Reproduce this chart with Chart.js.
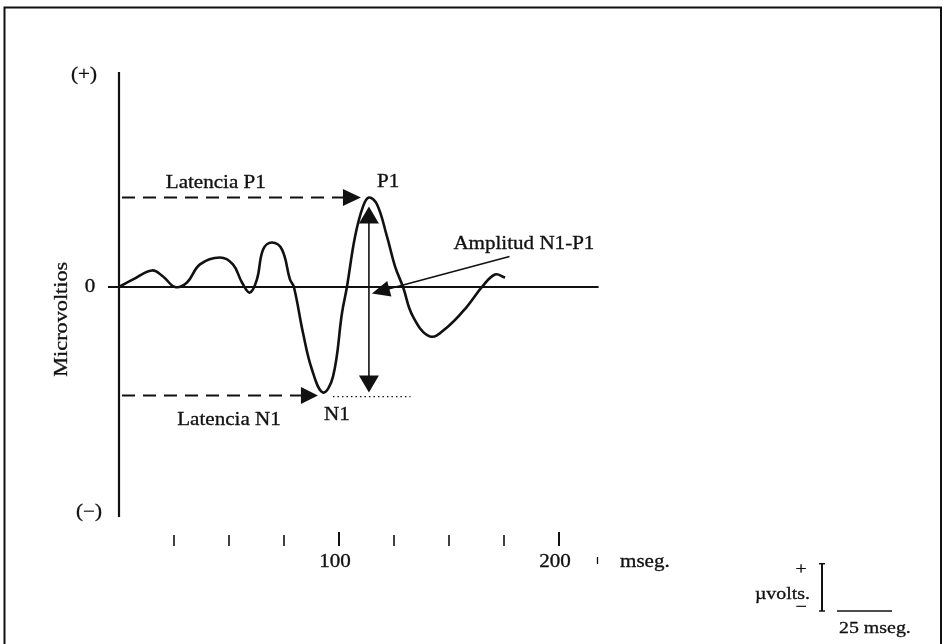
<!DOCTYPE html>
<html>
<head>
<meta charset="utf-8">
<script src="https://cdn.jsdelivr.net/npm/chart.js@4"></script>
<style>
html, body { margin: 0; padding: 0; background: #fff; }
canvas { display: block; }
</style>
</head>
<body>
<canvas id="canvas1" width="943" height="644"></canvas>
<script>
// waveform (ms, microvolts)
const timeMs = [0, 6.4, 15, 20, 25.5, 30.9, 36.8, 45.9, 51.8, 55.9, 59.5, 62.7, 65.5, 69.5, 74.1, 77.7, 79.5,
    83.6, 87.7, 92.7, 97.3, 101.4, 103.6, 107.3, 110.9, 113.6, 117.3, 121.8, 125.5, 129.1, 133.6, 141.4,
    149.1, 158.2, 165, 170.9, 175.5];
const microvolts = [0, 0.35, 0.77, 0.49, 0, 0.21, 1.05, 1.37, 1.05, 0.21, -0.26, 0.35, 1.74, 2.07, 1.74, 0.35, 0,
    -2.12, -3.84, -4.91, -4.16, -1.19, 0, 2.35, 3.74, 4.16, 3.84, 2.35, 0.95, 0, -1.37, -2.30,
    -1.88, -0.91, 0, 0.58, 0.44];
const xTicks = [25, 50, 75, 100, 125, 150, 175, 200];
const xTickLabels = ['', '', '', '100', '', '', '', '200'];
const scaleBarMs = 25;
const scaleBarUv = 2.2;

const FONT = '"Liberation Serif", "DejaVu Serif", serif';

function label(ctx, txt, x, y, align, size) {
    ctx.save();
    ctx.font = (size || 18) + 'px ' + FONT;
    ctx.textAlign = align || 'center';
    ctx.textBaseline = 'middle';
    ctx.translate(x, y);
    ctx.scale(1.17, 1);
    ctx.lineWidth = 0.3;
    ctx.fillText(txt, 0, 0);
    ctx.strokeText(txt, 0, 0);
    ctx.restore();
}

function arrowHead(ctx, x, y, angle, len, half) {
    ctx.save();
    ctx.translate(x, y);
    ctx.rotate(angle);
    ctx.beginPath();
    ctx.moveTo(0, 0);
    ctx.lineTo(-len, -half);
    ctx.lineTo(-len, half);
    ctx.closePath();
    ctx.fill();
    ctx.restore();
}

function line(ctx, x1, y1, x2, y2, w, dash) {
    ctx.save();
    ctx.lineWidth = w;
    ctx.setLineDash(dash || []);
    ctx.beginPath();
    ctx.moveTo(x1, y1);
    ctx.lineTo(x2, y2);
    ctx.stroke();
    ctx.restore();
}

const annotations = {
    id: 'annotations',
    beforeDatasetsDraw: function (chart) {
        let ctx = chart.ctx;
        let xs = chart.scales.x, ys = chart.scales.y;
        let px = v => xs.getPixelForValue(v), py = v => ys.getPixelForValue(v);
        let area = chart.chartArea;
        ctx.save();
        ctx.strokeStyle = '#111';
        ctx.fillStyle = '#111';
        // frame
        ctx.lineWidth = 2;
        ctx.strokeRect(4.5, 7.5, 936.5, 700);
        // axes
        line(ctx, px(0), py(10), px(0), py(-10.7), 2.2);
        line(ctx, px(0) - 11, py(0), px(218), py(0), 2.2);
        label(ctx, '0', px(0) - 29, py(0), 'center');
        label(ctx, '(+)', px(0) - 35, py(10) + 3, 'center');
        label(ctx, '(\u2212)', px(0) - 30, py(-10.7) - 5, 'center');
        ctx.save();
        ctx.translate(px(0) - 57, py(-1.5));
        ctx.rotate(-Math.PI / 2);
        label(ctx, 'Microvoltios', 0, 0, 'center', 19);
        ctx.restore();
        // floating time ticks
        xTicks.forEach(function (t, i) {
            let big = xTickLabels[i] !== '';
            line(ctx, px(t), area.bottom + (big ? 15 : 18), px(t), area.bottom + 29, big ? 2 : 1.6);
            if (big) {
                label(ctx, xTickLabels[i], px(t) - 4, area.bottom + 45, 'center');
            }
        });
        line(ctx, px(217.5), area.bottom + 40, px(217.5), area.bottom + 47, 1.3);
        label(ctx, 'mseg.', px(200) + 61, area.bottom + 45, 'left');
        ctx.restore();
    },
    afterDatasetsDraw: function (chart) {
        let ctx = chart.ctx;
        let xs = chart.scales.x, ys = chart.scales.y;
        let px = v => xs.getPixelForValue(v), py = v => ys.getPixelForValue(v);
        let iP = microvolts.indexOf(Math.max.apply(null, microvolts));
        let iN = microvolts.indexOf(Math.min.apply(null, microvolts));
        let p1x = px(timeMs[iP]), p1y = py(microvolts[iP]);
        let n1x = px(timeMs[iN]), n1y = py(microvolts[iN]) + 3;
        ctx.save();
        ctx.strokeStyle = '#111';
        ctx.fillStyle = '#111';

        // Latencia P1
        line(ctx, px(0) + 3, p1y, p1x - 24, p1y, 2, [13, 8]);
        arrowHead(ctx, p1x - 8, p1y, 0, 18, 8.5);
        label(ctx, 'Latencia P1', px(44), p1y - 14, 'center');
        label(ctx, 'P1', p1x + 8, p1y - 15, 'left');

        // Latencia N1
        line(ctx, px(0) + 3, n1y, n1x - 22, n1y, 2, [13, 8]);
        arrowHead(ctx, n1x - 5, n1y, 0, 17, 8.5);
        label(ctx, 'Latencia N1', px(50), n1y + 25, 'center');
        label(ctx, 'N1', n1x + 1, n1y + 20, 'left');
        line(ctx, n1x + 10, n1y + 1, px(132.5), n1y + 1, 1.3, [1.5, 3]);

        // amplitude N1-P1
        let top = p1y + 9, bot = n1y - 3;
        line(ctx, p1x, top + 10, p1x, bot - 10, 1.6);
        arrowHead(ctx, p1x, top, -Math.PI / 2, 17, 10);
        arrowHead(ctx, p1x, bot, Math.PI / 2, 17, 10);

        let tipX = p1x + 3, tipY = py(0) + 6.5;
        let endX = px(177.5), endY = py(1.42);
        let ang = Math.atan2(tipY - endY, tipX - endX);
        line(ctx, endX, endY, tipX + 14 * Math.cos(ang + Math.PI), tipY + 14 * Math.sin(ang + Math.PI), 1.6);
        arrowHead(ctx, tipX, tipY, ang, 18, 8);
        label(ctx, 'Amplitud N1-P1', px(152), py(2), 'left');

        // calibration bar
        let bx = px(200) + 263, by = ys.bottom + 94;
        let barTop = by - (py(0) - py(scaleBarUv));
        line(ctx, bx, barTop, bx, by, 2);
        line(ctx, bx - 3, barTop, bx + 3, barTop, 1.5);
        line(ctx, bx - 3, by, bx + 3, by, 1.5);
        line(ctx, bx + 15, by, bx + 15 + (px(scaleBarMs) - px(0)), by, 1.5);
        label(ctx, '+', bx - 21, barTop + 6, 'center', 17);
        label(ctx, '\u00b5volts.', bx - 12, by - 16, 'right', 17);
        label(ctx, '\u2212', bx - 21, by - 3, 'center', 17);
        label(ctx, '25 mseg.', bx + 17, by + 18, 'left', 17);
        ctx.restore();
    }
};

let ctx1 = document.getElementById('canvas1').getContext('2d');
let waveChart = new Chart(ctx1, {
    type: 'line',
    data: {
        datasets: [{
            data: timeMs.map(function (t, i) { return {x: t, y: microvolts[i]}; }),
            borderColor: '#111',
            borderWidth: 2.6,
            pointRadius: 0,
            tension: 0.4,
            fill: false
        }]
    },
    options: {
        responsive: false,
        animation: false,
        devicePixelRatio: 1,
        layout: {padding: {left: 119, right: 340, top: 72, bottom: 127}},
        plugins: {legend: {display: false}, tooltip: {enabled: false}},
        scales: {
            x: {type: 'linear', min: 0, max: 220, display: false},
            y: {min: -10.7, max: 10, display: false}
        }
    },
    plugins: [annotations]
});
</script>
</body>
</html>
